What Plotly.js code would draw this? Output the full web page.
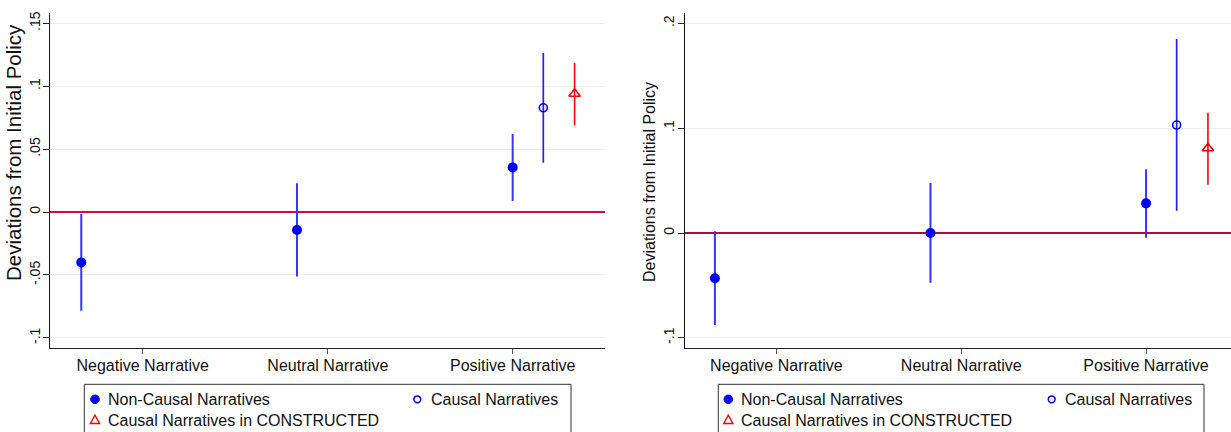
<!DOCTYPE html>
<html>
<head>
<meta charset="utf-8">
<script src="https://cdn.plot.ly/plotly-3.0.1.min.js"></script>
<style>html,body{margin:0;padding:0;background:#fff;}#chart{width:1231px;height:432px;}</style>
</head>
<body>
<div id="chart"></div>
<script>
// ---- data ----
const categories = ['Negative Narrative', 'Neutral Narrative', 'Positive Narrative'];
const seriesNames = ['Non-Causal Narratives', 'Causal Narratives', 'Causal Narratives in CONSTRUCTED'];

// left panel
const leftNonCausal   = [-0.040, -0.0143, 0.0355];
const leftNonCausalLo = [-0.0785, -0.0513, 0.0087];
const leftNonCausalHi = [-0.0016, 0.023, 0.062];
const leftCausal   = [0.0829];
const leftCausalLo = [0.0392];
const leftCausalHi = [0.1264];
const leftConstructed   = [0.094];
const leftConstructedLo = [0.0689];
const leftConstructedHi = [0.1184];

// right panel
const rightNonCausal   = [-0.0432, 0.0, 0.0283];
const rightNonCausalLo = [-0.0878, -0.0474, -0.0045];
const rightNonCausalHi = [0.0016, 0.0477, 0.0608];
const rightCausal   = [0.103];
const rightCausalLo = [0.0213];
const rightCausalHi = [0.185];
const rightConstructed   = [0.0808];
const rightConstructedLo = [0.0461];
const rightConstructedHi = [0.1148];

// tick labels
const leftYTickVals = [-0.1, -0.05, 0, 0.05, 0.1, 0.15];
const leftYTickText = ['-.1', '-.05', '0', '.05', '.1', '.15'];
const rightYTickVals = [-0.1, 0, 0.1, 0.2];
const rightYTickText = ['-.1', '0', '.1', '.2'];
const yTitle = 'Deviations from Initial Policy';

// ---- layout constants ----
const catIndex = categories.map((c, i) => i + 1);
const causalCat = 2;               // causal series only for Positive Narrative
const dodgeCausal = 0.142;
const dodgeConstructed = 0.287;
const labelPos = [1.285, 2.143, 3.0];

const W = 1231, H = 432;
const px = v => v / W;
const py = v => 1 - v / H;

const BLUE = '#0000ff';
const BLUE_BAR = '#3535ff';
const RED = '#ff0000';
const FONT = 'Liberation Sans, Arial, sans-serif';

function err(vals, lo, hi) {
  return {
    type: 'data', symmetric: false,
    array: vals.map((v, i) => hi[i] - v),
    arrayminus: vals.map((v, i) => v - lo[i]),
    width: 0, thickness: 2
  };
}

function panelTraces(xa, ya, nc, ncLo, ncHi, c, cLo, cHi, k, kLo, kHi) {
  return [
    {
      x: catIndex, y: nc, xaxis: xa, yaxis: ya, type: 'scatter', mode: 'markers',
      name: seriesNames[0], showlegend: false,
      marker: {color: BLUE, size: 10, symbol: 'circle'},
      error_y: Object.assign(err(nc, ncLo, ncHi), {color: BLUE_BAR, thickness: 2})
    },
    {
      x: [catIndex[causalCat] + dodgeCausal], y: c, xaxis: xa, yaxis: ya, type: 'scatter', mode: 'markers',
      name: seriesNames[1], showlegend: false,
      marker: {color: BLUE, size: 8, symbol: 'circle-open', line: {color: BLUE, width: 1.6}},
      error_y: Object.assign(err(c, cLo, cHi), {color: '#2020ff', thickness: 1.7})
    },
    {
      x: [catIndex[causalCat] + dodgeConstructed], y: k, xaxis: xa, yaxis: ya, type: 'scatter', mode: 'markers',
      name: seriesNames[2], showlegend: false,
      marker: {color: RED, size: 10, symbol: 'triangle-up-open', line: {color: RED, width: 1.5}},
      error_y: Object.assign(err(k, kLo, kHi), {color: RED, thickness: 1.6})
    }
  ];
}

const traces = [].concat(
  panelTraces('x', 'y', leftNonCausal, leftNonCausalLo, leftNonCausalHi,
              leftCausal, leftCausalLo, leftCausalHi,
              leftConstructed, leftConstructedLo, leftConstructedHi),
  panelTraces('x2', 'y2', rightNonCausal, rightNonCausalLo, rightNonCausalHi,
              rightCausal, rightCausalLo, rightCausalHi,
              rightConstructed, rightConstructedLo, rightConstructedHi)
);

const yDomain = [py(348.3), py(13.3)];

function xAxis(domain, range) {
  return {
    domain: domain, range: range,
    tickmode: 'array', tickvals: labelPos, ticktext: categories,
    ticks: 'outside', ticklen: 5, tickwidth: 1, tickcolor: '#555',
    ticklabelstandoff: -3,
    showgrid: false, zeroline: false,
    showline: true, linecolor: '#222', linewidth: 1,
    tickfont: {family: FONT, size: 16, color: '#111'},
    fixedrange: true
  };
}
function yAxis(range, vals, text, zcolor) {
  return {
    domain: yDomain, range: range,
    tickmode: 'array', tickvals: vals, ticktext: text, tickangle: -90,
    ticks: 'outside', ticklen: 6, tickwidth: 1, tickcolor: '#222',
    ticklabelstandoff: -2,
    showgrid: true, gridcolor: '#e9f0f0', gridwidth: 1,
    zeroline: true, zerolinecolor: zcolor, zerolinewidth: 1.6,
    showline: true, linecolor: '#111', linewidth: 1,
    tickfont: {family: FONT, size: 14, color: '#111'},
    fixedrange: true
  };
}

const xa1 = xAxis([px(50.2), px(605)], [0.856, 3.428]); xa1.anchor = 'y';
const xa2 = xAxis([px(684.5), 1], [0.859, 3.394]); xa2.anchor = 'y2';
const ya1 = yAxis([-0.1083, 0.158], leftYTickVals, leftYTickText, '#d0103a'); ya1.anchor = 'x';
const ya2 = yAxis([-0.110, 0.2096], rightYTickVals, rightYTickText, '#a8103a'); ya2.anchor = 'x2';

// legend boxes, symbols, texts
const shapes = [];
const annotations = [];
function legendBlock(left, right, mk1x, mk2x, t1x, t2x) {
  shapes.push({type: 'rect', xref: 'paper', yref: 'paper', x0: px(left), x1: px(right), y0: py(445), y1: py(384.3),
               line: {color: '#333', width: 1}, fillcolor: 'rgba(0,0,0,0)'});
  // filled circle
  shapes.push({type: 'circle', xref: 'paper', yref: 'paper', x0: px(mk1x - 4.3), x1: px(mk1x + 4.3), y0: py(399.3 + 4.3), y1: py(399.3 - 4.3),
               line: {color: BLUE, width: 1}, fillcolor: BLUE});
  // open circle
  shapes.push({type: 'circle', xref: 'paper', yref: 'paper', x0: px(mk2x - 3.4), x1: px(mk2x + 3.4), y0: py(399.3 + 3.4), y1: py(399.3 - 3.4),
               line: {color: BLUE, width: 1.5}, fillcolor: 'rgba(0,0,0,0)'});
  // open triangle
  const cx = mk1x, cy = 420, r = 4.6;
  shapes.push({type: 'path', xref: 'paper', yref: 'paper',
               path: 'M' + px(cx - r) + ',' + py(cy + r * 0.75) + ' L' + px(cx + r) + ',' + py(cy + r * 0.75) + ' L' + px(cx) + ',' + py(cy - r * 1.05) + ' Z',
               line: {color: RED, width: 1.4}, fillcolor: 'rgba(0,0,0,0)'});
  const f = {family: FONT, size: 16, color: '#111'};
  annotations.push({xref: 'paper', yref: 'paper', x: px(t1x - 2), y: py(399.3), xanchor: 'left', yanchor: 'middle', text: seriesNames[0], showarrow: false, font: f});
  annotations.push({xref: 'paper', yref: 'paper', x: px(t2x - 2), y: py(399.3), xanchor: 'left', yanchor: 'middle', text: seriesNames[1], showarrow: false, font: f});
  annotations.push({xref: 'paper', yref: 'paper', x: px(t1x - 2), y: py(420.5), xanchor: 'left', yanchor: 'middle', text: seriesNames[2], showarrow: false, font: f});
}
legendBlock(84.3, 571, 95, 417.3, 108.3, 431);
legendBlock(718.3, 1204, 728.3, 1051.7, 741, 1065);

// y-axis titles
annotations.push({xref: 'paper', yref: 'paper', x: px(13.5), y: py(152.5), xanchor: 'center', yanchor: 'middle',
  text: yTitle, textangle: -90, showarrow: false, font: {family: FONT, size: 20.5, color: '#111'}});
annotations.push({xref: 'paper', yref: 'paper', x: px(649.5), y: py(182.5), xanchor: 'center', yanchor: 'middle',
  text: yTitle, textangle: -90, showarrow: false, font: {family: FONT, size: 16, color: '#111'}});

const layout = {
  width: W, height: H,
  margin: {l: 0, r: 0, t: 0, b: 0},
  paper_bgcolor: '#fff', plot_bgcolor: '#fff',
  showlegend: false,
  xaxis: xa1, yaxis: ya1, xaxis2: xa2, yaxis2: ya2,
  shapes: shapes, annotations: annotations,
  font: {family: FONT, color: '#111'}
};

Plotly.newPlot('chart', traces, layout, {displayModeBar: false, staticPlot: true});
</script>
</body>
</html>
